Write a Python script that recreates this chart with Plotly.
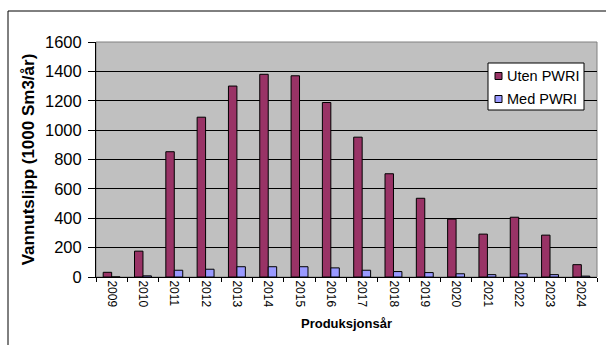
import plotly.graph_objects as go

years = [str(y) for y in range(2009, 2025)]
uten_pwri = [32, 176, 853, 1088, 1300, 1380, 1370, 1188, 952, 703, 536, 394, 292, 407, 285, 84]
med_pwri = [0, 8, 46, 53, 70, 70, 70, 62, 46, 37, 30, 22, 16, 22, 16, 6]

series_names = ["Uten PWRI", "Med PWRI"]
series_colors = ["#993366", "#9999FF"]

fig = go.Figure()
for name, vals, col in zip(series_names, [uten_pwri, med_pwri], series_colors):
    fig.add_trace(go.Bar(
        x=years, y=vals, name=name,
        marker=dict(color=col, line=dict(color="black", width=1)),
    ))

W, H = 606, 345
L, R, T, B = 96, 9, 42, 68
pw, ph = W - L - R, H - T - B


def px_x(x):
    return (x - L) / pw


def px_y(y):
    return (H - B - y) / ph


FONT = "Liberation Sans, Arial, sans-serif"

# Outer frame, plot-area border and a boxed legend in the upper right
shapes = [
    dict(type="rect", xref="paper", yref="paper",
         x0=px_x(8), x1=px_x(615), y0=px_y(355), y1=px_y(11),
         line=dict(color="black", width=1), layer="below"),
    dict(type="rect", xref="paper", yref="paper",
         x0=0, x1=1, y0=0, y1=1,
         line=dict(color="#808080", width=1), layer="below"),
    dict(type="rect", xref="paper", yref="paper",
         x0=px_x(488), x1=px_x(584), y0=px_y(110), y1=px_y(63),
         fillcolor="white", line=dict(color="black", width=1), layer="above"),
]
annotations = []
for i, (name, col) in enumerate(zip(series_names, series_colors)):
    cy = 76 + 23 * i
    shapes.append(dict(type="rect", xref="paper", yref="paper",
                       x0=px_x(495), x1=px_x(502), y0=px_y(cy + 3.5), y1=px_y(cy - 3.5),
                       fillcolor=col, line=dict(color="black", width=1), layer="above"))
    annotations.append(dict(xref="paper", yref="paper", x=px_x(505), y=px_y(cy),
                            xanchor="left", yanchor="middle", showarrow=False,
                            text=name, font=dict(size=14.5, family=FONT)))

fig.update_layout(
    width=W, height=H,
    margin=dict(l=L, r=R, t=T, b=B, pad=0),
    paper_bgcolor="white",
    plot_bgcolor="#C0C0C0",
    barmode="group",
    bargap=0.46,
    bargroupgap=0,
    font=dict(family=FONT, color="black"),
    showlegend=False,
    xaxis=dict(
        type="category",
        tickangle=90,
        tickfont=dict(size=12),
        ticks="outside", ticklen=4, tickcolor="black",
        tickson="boundaries",
        showline=True, linecolor="black", linewidth=1,
        showgrid=False,
        title=dict(text="<b>Produksjonsår</b>", font=dict(size=13), standoff=12),
    ),
    yaxis=dict(
        range=[0, 1600], dtick=200,
        tickfont=dict(size=16.5),
        ticks="outside", ticklen=7, tickcolor="black",
        ticklabelstandoff=3,
        showline=True, linecolor="black", linewidth=1,
        showgrid=True, gridcolor="black", gridwidth=1,
        zeroline=False,
        title=dict(text="<b>Vannutslipp (1000 Sm3/år)</b>", font=dict(size=17), standoff=6),
    ),
    shapes=shapes,
    annotations=annotations,
)

fig.write_html("out.html")
